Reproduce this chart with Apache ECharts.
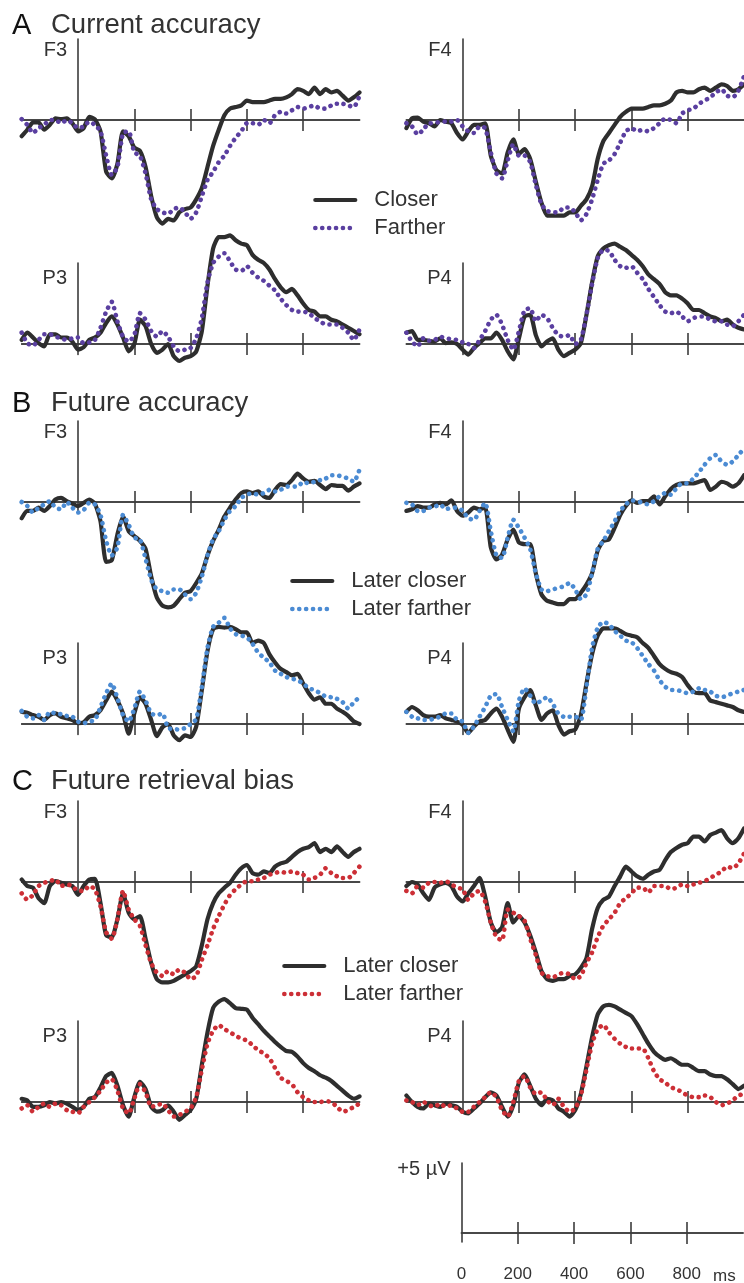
<!DOCTYPE html>
<html>
<head>
<meta charset="utf-8">
<title>ERP waveforms</title>
<script src="https://cdn.jsdelivr.net/npm/echarts@6/dist/echarts.min.js"></script>
<style>
  html, body { margin: 0; padding: 0; background: #fff; }
  #chart { width: 744px; height: 1283px; }
</style>
</head>
<body>
<div id="chart"></div>
<script>
// sample times, ms
const times = [
  -200, -180, -160, -140, -120, -100, -80, -60, -40, -20,
  0, 20, 40, 60, 80, 100, 120, 140, 160, 180,
  200, 220, 240, 260, 280, 300, 320, 340, 360, 380,
  400, 420, 440, 460, 480, 500, 520, 540, 560, 580,
  600, 620, 640, 660, 680, 700, 720, 740, 760, 780,
  800, 820, 840, 860, 880, 900, 920, 940, 960, 980,
  1000
];
const scaleTicks = [0, 200, 400, 600, 800];

// A. Current accuracy (µV)
const aF3Closer = [-1.0, -0.6, -0.15, -0.15, -0.6, -0.3, 0.1, 0.05, 0.1, -0.2,
  -0.7, -0.5, 0.2, 0.05, -0.7, -3.2, -3.6, -2.7, -0.7, -1.0,
  -1.7, -1.9, -2.9, -4.7, -6.0, -6.4, -6.1, -6.2, -5.7, -5.5,
  -5.4, -4.9, -4.2, -2.9, -1.6, -0.6, 0.3, 0.7, 0.8, 0.9,
  1.2, 1.1, 1.1, 1.1, 1.2, 1.3, 1.3, 1.4, 1.6, 1.9,
  1.8, 1.6, 2.0, 1.6, 1.9, 1.7, 1.8, 1.5, 1.2, 1.4, 1.7];
const aF3Farther = [0.05, -0.3, -0.8, -0.5, -0.3, 0, 0, -0.2, 0, -0.2,
  -0.5, -0.4, -0.1, -0.3, -0.7, -2.2, -3.4, -2.9, -0.8, -0.7,
  -2.0, -2.2, -3.3, -4.9, -5.5, -5.7, -5.8, -5.5, -5.4, -5.7,
  -6.1, -5.7, -4.7, -3.7, -3.2, -2.6, -2.2, -1.6, -1.1, -0.7,
  -0.2, -0.2, -0.3, 0, -0.2, 0.3, 0.5, 0.4, 0.6, 0.8,
  0.7, 0.8, 0.9, 0.7, 0.7, 0.9, 1.0, 1.0, 0.9, 0.8, 1.5];
const aF4Closer = [-0.5, 0.1, 0.15, -0.1, -0.2, -0.4, 0, -0.1, -0.2, -0.8,
  -1.2, -0.7, -0.3, -0.3, -0.2, -2.2, -3.1, -3.3, -2.0, -1.2,
  -2.1, -1.8, -2.4, -3.8, -5.1, -5.9, -5.9, -5.9, -5.9, -5.7,
  -5.7, -5.3, -4.9, -4.1, -2.4, -1.3, -0.8, -0.3, 0.2, 0.5,
  0.7, 0.7, 0.7, 0.8, 0.9, 0.9, 1.0, 1.2, 1.7, 1.8,
  1.7, 1.7, 1.9, 2.0, 1.8, 2.0, 2.2, 2.1, 1.8, 1.9, 2.2];
const aF4Farther = [-0.2, -0.4, -0.9, -0.6, -0.2, -0.2, -0.1, -0.1, -0.1, 0,
  -0.4, -0.7, -0.8, -0.4, -0.5, -2.0, -3.3, -3.6, -2.5, -1.5,
  -2.2, -2.2, -2.6, -4.0, -5.2, -5.6, -5.7, -5.7, -5.4, -5.4,
  -5.7, -6.2, -5.8, -4.9, -3.7, -2.7, -2.5, -2.1, -1.4, -0.7,
  -0.5, -0.7, -0.6, -0.7, -0.5, -0.2, 0.1, 0, -0.2, 0.4,
  0.6, 0.7, 1.0, 1.2, 1.4, 1.7, 1.9, 1.5, 1.4, 1.8, 2.7];
const aP3Closer = [0.25, 0.7, 0.4, 0.05, -0.15, 0.6, 0.6, 0.4, 0.4, 0.15,
  -0.35, -0.2, 0.25, 0.4, 0.7, 1.3, 1.7, 1.2, 0.4, -0.45,
  0, 1.5, 1.1, 0, -0.55, -0.35, 0, -0.75, -1.05, -0.85,
  -0.75, -0.45, 0.8, 3.6, 5.9, 6.6, 6.6, 6.7, 6.4, 6.2,
  6.1, 5.5, 5.2, 5.0, 4.6, 4.0, 3.5, 3.2, 3.4, 3.0,
  2.5, 2.1, 2.0, 1.7, 1.7, 1.5, 1.4, 1.2, 1.0, 0.8, 0.6];
const aP3Farther = [0.7, 0.05, -0.1, 0.25, 0.6, 0.6, 0.45, 0.35, 0.25, 0.35,
  0.4, 0.05, 0.1, 0.25, 1.0, 2.0, 2.6, 1.4, 0.45, 0.15,
  0.55, 1.9, 1.5, 0.8, 0.45, 0.8, 0.45, -0.15, -0.45, -0.35,
  -0.25, 0.35, 1.6, 3.8, 5.0, 5.4, 5.6, 5.1, 4.6, 4.5,
  4.8, 4.4, 4.1, 3.9, 3.6, 3.3, 2.8, 2.4, 2.1, 2.0,
  2.0, 1.9, 1.6, 1.4, 1.2, 1.2, 1.2, 1.0, 0.7, 0.25, 0.9];
const aP4Closer = [0.7, 0.8, 0.25, 0.25, 0.2, 0.15, 0.35, 0.05, 0.1, 0,
  -0.35, -0.65, -0.25, 0.05, 0.35, 0.35, 0.7, 0.25, -0.45, -0.95,
  0.35, 1.7, 1.8, 0.55, -0.15, 0.15, 0.35, -0.35, -0.75, -0.55,
  -0.35, 0.05, 1.8, 3.8, 5.4, 5.9, 6.1, 6.2, 6.0, 5.8,
  5.5, 5.2, 4.8, 4.3, 4.0, 3.7, 3.2, 3.0, 3.0, 2.8,
  2.5, 2.1, 2.1, 1.9, 1.7, 1.6, 1.4, 1.5, 1.2, 1.0, 0.9];
const aP4Farther = [0.7, 0.15, -0.15, 0.35, 0.2, 0.25, 0.45, 0.35, 0.3, 0.25,
  0.1, 0, -0.25, 0.25, 0.8, 1.5, 1.8, 1.2, 0.25, -0.35,
  0.8, 2.1, 2.2, 1.4, 1.8, 1.6, 1.0, 0.55, 0.45, 0.55,
  0, 0.25, 1.8, 3.7, 5.3, 5.8, 5.75, 5.2, 4.8, 4.7,
  4.8, 4.4, 4.0, 3.4, 2.9, 2.4, 2.0, 1.9, 2.0, 1.7,
  1.4, 1.6, 1.7, 1.7, 1.5, 1.4, 1.4, 1.2, 1.1, 1.4, 1.8];

// B. Future accuracy (µV)
const bF3Closer = [-1.0, -0.55, -0.55, -0.35, -0.55, -0.25, 0.15, 0.25, 0.05, -0.1,
  -0.25, -0.05, 0.15, -0.1, -1.2, -3.7, -3.6, -2.0, -0.9, -1.8,
  -2.1, -2.4, -2.9, -4.6, -5.9, -6.4, -6.5, -6.4, -6.0, -5.6,
  -5.5, -5.0, -4.4, -3.3, -2.4, -1.7, -0.9, -0.35, 0.15, 0.55,
  0.65, 0.55, 0.65, 0.35, 0.25, 0.75, 1.1, 1.05, 1.35, 1.75,
  1.45, 1.25, 1.3, 1.05, 0.8, 1.05, 1.0, 1.0, 0.7, 0.95, 1.15];
const bF3Farther = [0, -0.25, -0.65, -0.35, -0.15, 0.05, -0.35, -0.45, 0, -0.35,
  -0.65, -0.5, -0.05, -0.15, -0.8, -2.4, -3.3, -2.8, -0.8, -1.4,
  -2.2, -2.3, -3.5, -4.8, -5.4, -5.5, -5.6, -5.4, -5.4, -5.7,
  -6.0, -5.6, -4.6, -3.3, -2.3, -1.8, -1.1, -0.55, -0.25, 0.25,
  0.45, 0.55, 0.45, 0.55, 0.75, 0.65, 0.75, 0.95, 0.95, 0.95,
  1.25, 1.15, 1.25, 1.35, 1.45, 1.65, 1.65, 1.55, 1.45, 1.25, 2.0];
const bF4Closer = [-0.55, -0.45, -0.25, -0.35, -0.35, -0.15, -0.05, -0.15, 0.1, -0.55,
  -0.85, -0.65, -0.35, -0.45, -0.35, -2.8, -3.55, -3.25, -2.3, -1.7,
  -2.5, -2.6, -2.6, -4.4, -5.7, -6.1, -6.2, -6.3, -6.3, -6.0,
  -6.0, -5.6, -5.1, -4.4, -3.0, -2.4, -2.3, -1.6, -0.8, -0.25,
  0.1, -0.05, 0.05, 0.05, 0.35, -0.15, 0.35, 0.8, 1.05, 1.15,
  1.15, 1.15, 1.25, 1.35, 0.75, 0.95, 1.25, 1.15, 0.95, 1.15, 1.65];
const bF4Farther = [-0.05, -0.15, -0.55, -0.55, -0.35, -0.3, -0.15, -0.45, -0.35, -0.35,
  -0.55, -1.0, -1.1, -0.55, -0.05, -1.8, -3.3, -3.45, -2.2, -1.1,
  -1.6, -2.2, -2.9, -4.4, -5.4, -5.5, -5.4, -5.3, -5.2, -5.0,
  -5.4, -6.0, -5.7, -4.4, -2.9, -2.4, -1.8, -1.2, -0.55, -0.15,
  0.1, 0.05, -0.05, -0.15, 0.05, 0.35, 0.55, 0.45, 0.85, 1.15,
  1.15, 1.45, 1.85, 2.3, 2.7, 2.9, 2.5, 2.3, 2.5, 2.9, 3.3];
const bP3Closer = [0.75, 0.7, 0.55, 0.45, 0.25, 0.55, 0.65, 0.45, 0.35, 0.25,
  0.05, 0.1, 0.45, 0.55, 0.85, 1.45, 2.0, 1.45, 0.65, -0.6,
  0.65, 1.65, 1.25, 0.25, -0.75, -0.2, 0.0, -0.7, -1.0, -0.7,
  -0.8, -0.15, 2.1, 4.5, 5.85, 6.0, 5.95, 6.0, 5.85, 5.65,
  5.65, 5.0, 5.15, 5.0, 4.3, 3.8, 3.4, 3.2, 3.0, 3.1,
  2.5, 1.9, 1.5, 1.65, 1.25, 1.25, 0.95, 0.75, 0.5, 0.15, 0];
const bP3Farther = [0.8, 0.45, 0.35, 0.55, 0.25, 0.75, 0.65, 0.6, 0.5, 0.45,
  0.15, 0.05, 0.15, 0.25, 1.05, 1.9, 2.5, 1.6, 0.55, 0.15,
  0.95, 2.0, 1.45, 0.65, 0.55, 0.65, -0.25, -0.3, -0.35, -0.25,
  0.0, 0.3, 2.3, 4.7, 6.0, 6.25, 6.55, 5.9, 5.55, 5.45,
  5.35, 4.95, 4.4, 4.1, 3.8, 3.3, 3.1, 2.9, 2.8, 2.7,
  2.5, 2.2, 2.1, 1.9, 1.7, 1.65, 1.55, 1.35, 0.95, 1.35, 1.65];
const bP4Closer = [0.75, 1.05, 0.85, 0.55, 0.45, 0.45, 0.55, 0.35, 0.25, 0.15,
  -0.05, -0.55, -0.15, 0.15, 0.25, 0.65, 0.95, 0.45, -0.35, -1.1,
  0.95, 1.65, 2.1, 1.15, 0.25, 0.65, 0.85, -0.05, -0.65, -0.45,
  -0.35, 0.55, 2.5, 4.3, 5.45, 5.9, 5.9, 5.9, 5.75, 5.55,
  5.45, 5.35, 5.0, 4.7, 4.2, 3.7, 3.4, 3.2, 3.1, 2.9,
  2.4, 2.0, 1.9, 1.9, 1.45, 1.35, 1.25, 1.15, 1.05, 0.85, 0.75];
const bP4Farther = [0.75, 0.45, 0.35, 0.25, 0.25, 0.35, 0.45, 0.65, 0.65, 0.25,
  0.15, -0.55, -0.15, 0.45, 1.05, 1.75, 1.85, 1.05, 0.25, -0.45,
  1.45, 2.2, 1.75, 1.25, 1.45, 1.65, 1.25, 0.65, 0.45, 0.45,
  0.45, 0.25, 2.3, 4.7, 5.95, 6.3, 6.15, 5.75, 5.45, 5.15,
  5.05, 4.7, 4.2, 3.7, 3.3, 2.7, 2.3, 2.1, 2.1, 2.0,
  1.9, 2.0, 2.2, 2.1, 2.0, 1.75, 1.65, 1.75, 1.9, 2.0, 2.1];

// C. Future retrieval bias (µV)
const cF3Closer = [0.15, -0.25, -0.35, -1.0, -1.3, -0.25, 0.05, -0.05, -0.15, -0.25,
  -0.8, -0.25, 0.15, 0.2, -1.3, -3.3, -3.4, -2.3, -0.7, -1.9,
  -2.3, -2.1, -3.5, -5.0, -6.0, -6.2, -6.2, -6.1, -5.9, -5.7,
  -5.5, -5.2, -3.9, -2.3, -1.3, -0.7, -0.35, -0.05, 0.45, 0.85,
  1.05, 0.55, 0.45, 0.65, 0.55, 0.95, 1.15, 1.25, 1.55, 1.85,
  2.05, 2.15, 2.4, 1.85, 2.05, 1.85, 2.2, 1.85, 1.55, 1.85, 2.05];
const cF3Farther = [-0.7, -1.1, -0.8, -0.25, -0.05, 0.05, 0.15, -0.25, -0.15, -0.25,
  -0.55, -0.55, -0.25, -0.45, -1.5, -3.1, -3.5, -2.3, -0.55, -1.7,
  -2.3, -2.7, -3.9, -5.0, -5.6, -5.8, -5.5, -5.7, -5.4, -5.6,
  -6.0, -5.8, -4.8, -3.9, -2.9, -2.1, -1.4, -0.8, -0.45, -0.15,
  0.05, 0.05, 0.15, 0.25, 0.45, 0.55, 0.65, 0.55, 0.65, 0.55,
  0.45, 0.15, 0.25, 0.45, 0.85, 0.55, 0.35, 0.25, 0.25, 0.55, 0.95];
const cF4Closer = [-0.25, 0, -0.15, -0.7, -1.1, -0.35, -0.15, -0.05, -0.25, -0.9,
  -1.2, -0.7, -0.25, 0.25, -0.9, -2.5, -3.1, -2.8, -1.3, -2.5,
  -2.1, -2.5, -3.3, -4.35, -5.5, -6.0, -6.1, -6.0, -6.0, -5.8,
  -5.7, -5.3, -4.7, -2.9, -1.6, -1.1, -0.9, -0.25, 0.35, 0.95,
  0.65, 0.35, 0.2, 0.45, 0.65, 0.75, 1.35, 1.85, 2.1, 2.3,
  2.4, 2.8, 2.8, 2.5, 2.9, 3.05, 3.2, 2.7, 2.4, 2.7, 3.3];
const cF4Farther = [-0.55, -0.7, -0.25, -0.35, -0.05, 0, -0.05, 0.05, -0.15, -0.35,
  -0.45, -1.1, -0.7, -0.55, -1.2, -2.5, -3.4, -3.6, -1.7, -1.9,
  -2.1, -2.4, -3.5, -4.5, -5.6, -5.8, -5.9, -5.7, -5.6, -5.7,
  -6.0, -5.8, -5.0, -4.35, -3.4, -2.7, -2.3, -1.9, -1.3, -1.0,
  -0.7, -0.35, -0.35, -0.65, -0.25, -0.25, -0.25, -0.45, -0.35, -0.15,
  -0.25, -0.15, -0.05, 0.05, 0.25, 0.45, 0.65, 0.95, 0.85, 1.15, 1.75];
const cP3Closer = [0.2, 0.1, -0.3, -0.3, -0.2, 0.0, -0.1, 0.0, -0.1, -0.3,
  -0.5, -0.3, 0.2, 0.3, 0.9, 1.6, 1.8, 1.0, -0.2, -0.9,
  0.3, 1.25, 0.8, -0.3, -0.6, -0.5, -0.2, -0.6, -1.1, -0.8,
  -0.5, 0.2, 2.3, 4.3, 5.8, 6.2, 6.35, 6.1, 5.8, 5.75,
  5.7, 5.2, 4.8, 4.4, 4.05, 3.7, 3.4, 3.15, 3.1, 2.8,
  2.4, 2.1, 1.9, 1.65, 1.5, 1.3, 1.0, 0.7, 0.4, 0.2, 0.35];
const cP3Farther = [-0.4, -0.2, -0.6, -0.3, -0.1, -0.3, -0.1, -0.2, -0.5, -0.6,
  -0.7, -0.3, 0.0, 0.3, 0.7, 1.2, 1.4, 0.7, -0.4, -0.7,
  0.2, 1.1, 0.6, -0.3, -0.2, -0.1, -0.5, -0.9, -0.8, -0.6,
  -0.4, 0.3, 2.0, 3.6, 4.4, 4.75, 4.5, 4.3, 4.1, 3.9,
  3.8, 3.5, 3.2, 3.0, 2.7, 2.1, 1.5, 1.3, 1.1, 0.6,
  0.3, 0.1, 0.0, 0.0, 0.05, 0.0, -0.3, -0.6, -0.5, -0.3, -0.1];
const cP4Closer = [0.4, 0.0, -0.3, -0.4, -0.1, -0.2, -0.3, -0.1, -0.2, -0.3,
  -0.6, -0.7, -0.4, -0.1, 0.3, 0.6, 0.4, -0.3, -0.9, -0.2,
  1.2, 1.7, 1.0, 0.2, -0.2, 0.2, 0.1, -0.4, -0.6, -0.9,
  -0.5, 0.5, 2.2, 4.0, 5.4, 5.9, 6.0, 5.9, 5.7, 5.5,
  5.3, 4.8, 4.2, 3.6, 3.1, 2.8, 2.6, 2.7, 2.5, 2.3,
  2.3, 2.1, 1.9, 1.9, 1.7, 1.6, 1.6, 1.4, 1.1, 0.8, 1.0];
const cP4Farther = [0.1, 0.0, -0.2, 0.0, -0.2, -0.3, -0.1, -0.3, -0.2, -0.4,
  -0.6, -0.6, -0.3, 0.0, 0.3, 0.6, 0.3, -0.5, -0.9, 0.0,
  1.3, 1.6, 0.9, 0.5, 0.6, 0.1, -0.2, 0.2, -0.3, -0.6,
  -0.4, 0.4, 2.0, 3.6, 4.5, 4.75, 4.3, 3.9, 3.6, 3.4,
  3.3, 3.3, 3.3, 2.7, 1.9, 1.4, 1.2, 0.9, 0.8, 0.6,
  0.4, 0.3, 0.3, 0.4, 0.3, 0.0, -0.2, -0.1, 0.1, 0.4, 0.5];

const FONT = '"Liberation Sans", Arial, Helvetica, sans-serif';
const INK = '#2e2e2e';
const AXIS = '#3c3c3c';
const TEXT = '#333';
const PX_PER_UV = 16.2;   // 5 µV bar = 81 px
const PX_PER_MS = 0.2815; // 200 ms = 56.3 px
const Y_MIN = -0.65, Y_MAX = 5;

const sections = [
  { key: 'A', title: 'Current accuracy', names: ['Closer', 'Farther'], color: '#5a3fa0',
    rows: [120, 344], titleTop: 6, legend: { left: 313, top: 189 },
    data: { F3: [aF3Closer, aF3Farther], F4: [aF4Closer, aF4Farther], P3: [aP3Closer, aP3Farther], P4: [aP4Closer, aP4Farther] } },
  { key: 'B', title: 'Future accuracy', names: ['Later closer', 'Later farther'], color: '#4b8bd3',
    rows: [502, 724], titleTop: 384, legend: { left: 290, top: 570 },
    data: { F3: [bF3Closer, bF3Farther], F4: [bF4Closer, bF4Farther], P3: [bP3Closer, bP3Farther], P4: [bP4Closer, bP4Farther] } },
  { key: 'C', title: 'Future retrieval bias', names: ['Later closer', 'Later farther'], color: '#cc2f36',
    rows: [882, 1102], titleTop: 762, legend: { left: 282, top: 955 },
    data: { F3: [cF3Closer, cF3Farther], F4: [cF4Closer, cF4Farther], P3: [cP3Closer, cP3Farther], P4: [cP4Closer, cP4Farther] } }
];
const electrodes = [
  { name: 'F3', col: 0, row: 0 }, { name: 'F4', col: 1, row: 0 },
  { name: 'P3', col: 0, row: 1 }, { name: 'P4', col: 1, row: 1 }
];
const zeroX = [78, 462.7];
const labelAt = [4.3, 4.05]; // electrode label height, frontal / parietal rows

const axisLineStyle = { color: AXIS, width: 1.6 };

// two x axes on the zero line: one ticks down, one ticks up, so the ticks cross it
function xAxes(gridIndex, yIndex, min, withLabels) {
  const make = (position) => ({
    type: 'value', gridIndex, min, max: 1000, position,
    axisLine: { show: true, onZero: true, onZeroAxisIndex: yIndex, lineStyle: axisLineStyle },
    axisTick: { show: true, length: 11, customValues: [200, 400, 600, 800], lineStyle: axisLineStyle },
    axisLabel: withLabels && position === 'bottom'
      ? { show: true, customValues: scaleTicks, margin: 24, fontSize: 17, color: TEXT, fontFamily: FONT }
      : { show: false },
    splitLine: { show: false }
  });
  return [make('bottom'), make('top')];
}

// vertical axis drawn at t = 0 by offsetting it into the grid
function yAxis(gridIndex, label, at, offset) {
  return {
    type: 'value', gridIndex, min: Y_MIN, max: Y_MAX, position: 'left', offset,
    axisLine: { show: true, onZero: false, lineStyle: axisLineStyle },
    axisTick: { show: false },
    splitLine: { show: false },
    axisLabel: { show: true, customValues: [at], formatter: () => label, margin: 11,
      fontSize: 20, color: TEXT, fontFamily: FONT }
  };
}

const grid = [], xAxis = [], yAxisList = [], series = [], legend = [], title = [];

sections.forEach((s) => {
  title.push({ text: s.key, left: 7, top: s.titleTop,
    textStyle: { fontSize: 29, fontWeight: 'normal', color: '#111', fontFamily: FONT } });
  title.push({ text: s.title, left: 46, top: s.titleTop,
    textStyle: { fontSize: 27.5, fontWeight: 'normal', color: TEXT, fontFamily: FONT } });

  const closerName = s.key + '|' + s.names[0];
  const fartherName = s.key + '|' + s.names[1];
  legend.push({
    data: [closerName, fartherName], orient: 'vertical',
    left: s.legend.left, top: s.legend.top, padding: 0,
    itemWidth: 40, itemHeight: 14, itemGap: 6, selectedMode: false,
    formatter: (n) => n.split('|')[1],
    itemStyle: { opacity: 0 },
    lineStyle: { width: 'inherit' },
    textStyle: { fontSize: 22, lineHeight: 22, color: TEXT, fontFamily: FONT, padding: [0, 0, 0, 14] }
  });

  electrodes.forEach((e) => {
    const gi = grid.length;
    const base = s.rows[e.row];
    grid.push({
      left: zeroX[e.col] - 200 * PX_PER_MS, width: 1200 * PX_PER_MS,
      top: base - Y_MAX * PX_PER_UV, height: (Y_MAX - Y_MIN) * PX_PER_UV
    });
    xAxis.push(...xAxes(gi, gi, -200, false));
    yAxisList.push(yAxis(gi, e.name, labelAt[e.row], -200 * PX_PER_MS));

    const [closer, farther] = s.data[e.name];
    series.push({
      type: 'line', name: closerName, xAxisIndex: 2 * gi, yAxisIndex: gi,
      data: times.map((t, i) => [t, closer[i]]),
      symbol: 'none', clip: false, smooth: 0.2, silent: true, color: INK,
      lineStyle: { color: INK, width: 4.2, cap: 'round', join: 'round' }, z: 3
    });
    series.push({
      type: 'line', name: fartherName, xAxisIndex: 2 * gi, yAxisIndex: gi,
      data: times.map((t, i) => [t, farther[i]]),
      symbol: 'none', clip: false, smooth: 0.2, silent: true, color: s.color,
      lineStyle: { color: s.color, width: 4.6, type: [0.1, 6.8], cap: 'round', join: 'round' }, z: 4
    });
  });
});

// calibration bar: +5 µV and 0-1000 ms
const scaleIndex = grid.length;
grid.push({ left: 461.5, width: 1000 * PX_PER_MS, top: 1244 - Y_MAX * PX_PER_UV, height: (Y_MAX - Y_MIN) * PX_PER_UV });
xAxis.push(...xAxes(scaleIndex, scaleIndex, 0, true));
yAxisList.push(yAxis(scaleIndex, '+5 µV', 4.55, 0));

const chart = echarts.init(document.getElementById('chart'), null, { renderer: 'canvas' });
chart.setOption({
  backgroundColor: '#fff',
  animation: false,
  title, legend, grid, xAxis, yAxis: yAxisList, series,
  graphic: [{
    type: 'text', left: 713, top: 1268,
    style: { text: 'ms', fontSize: 17, fill: TEXT, fontFamily: FONT }
  }]
});
</script>
</body>
</html>
